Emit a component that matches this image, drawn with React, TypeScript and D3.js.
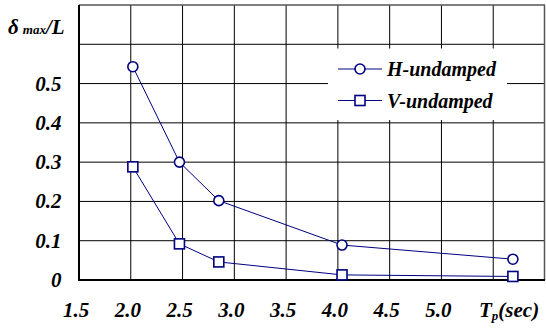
import { useEffect, useRef } from 'react';
import * as d3 from 'd3';

// Values
const periods = [2.02, 2.47, 2.85, 4.04, 5.69];
const hUndamped = [0.543, 0.3, 0.202, 0.089, 0.053];
const vUndamped = [0.288, 0.092, 0.046, 0.013, 0.009];

const xTicks = [1.5, 2.0, 2.5, 3.0, 3.5, 4.0, 4.5, 5.0];
const xGrid = [2.0, 2.5, 3.0, 3.5, 4.0, 4.5, 5.0, 5.5];
const yTicks = [0, 0.1, 0.2, 0.3, 0.4, 0.5];
const yGrid = [0.1, 0.2, 0.3, 0.4, 0.5, 0.6];

const seriesNames = ['H-undamped', 'V-undamped'];

export default function App() {
  const svgRef = useRef<SVGSVGElement>(null);

  useEffect(() => {
    if (!svgRef.current) return;

    const width = 546;
    const height = 334;
    const margin = { top: 5, right: 1, bottom: 54, left: 79 };
    const color = '#000080';
    const font = 'Liberation Serif';

    const svg = d3.select(svgRef.current)
      .attr('width', width)
      .attr('height', height);

    svg.selectAll('*').remove();

    const x = d3.scaleLinear()
      .domain([1.5, 6.0])
      .range([margin.left, width - margin.right]);

    const y = d3.scaleLinear()
      .domain([0, 0.7])
      .range([height - margin.bottom, margin.top]);

    // grid
    const grid = svg.append('g');
    grid.selectAll('line.v')
      .data(xGrid)
      .join('line')
      .attr('x1', d => x(d)).attr('x2', d => x(d))
      .attr('y1', y(0)).attr('y2', y(0.7))
      .attr('stroke', '#000').attr('stroke-width', 1);
    grid.selectAll('line.h')
      .data(yGrid)
      .join('line')
      .attr('x1', x(1.5)).attr('x2', x(6.0))
      .attr('y1', d => y(d)).attr('y2', d => y(d))
      .attr('stroke', '#000').attr('stroke-width', 1);

    // frame
    svg.append('line')
      .attr('x1', x(1.5)).attr('x2', x(6.0)).attr('y1', y(0.7)).attr('y2', y(0.7))
      .attr('stroke', '#555').attr('stroke-width', 1.5);
    svg.append('line')
      .attr('x1', x(6.0) - 0.5).attr('x2', x(6.0) - 0.5).attr('y1', y(0)).attr('y2', y(0.7))
      .attr('stroke', '#555').attr('stroke-width', 1.5);
    svg.append('line')
      .attr('x1', x(1.5)).attr('x2', x(1.5)).attr('y1', y(0) + 1).attr('y2', y(0.7))
      .attr('stroke', '#000').attr('stroke-width', 2);
    svg.append('line')
      .attr('x1', x(1.5)).attr('x2', x(6.0)).attr('y1', y(0)).attr('y2', y(0))
      .attr('stroke', '#000').attr('stroke-width', 2);

    // legend background
    svg.append('rect')
      .attr('x', 328).attr('y', 48.5)
      .attr('width', 179).attr('height', 71.5)
      .attr('fill', '#fff');

    // series
    const line = d3.line<[number, number]>()
      .x(d => x(d[0]))
      .y(d => y(d[1]));

    const series = [hUndamped, vUndamped];
    series.forEach((vals, si) => {
      const pts = periods.map((p, i) => [p, vals[i]] as [number, number]);
      svg.append('path')
        .datum(pts)
        .attr('fill', 'none')
        .attr('stroke', color)
        .attr('stroke-width', 1)
        .attr('d', line);
      if (si === 0) {
        svg.selectAll(null)
          .data(pts)
          .join('circle')
          .attr('cx', d => x(d[0]))
          .attr('cy', d => y(d[1]))
          .attr('r', 5)
          .attr('fill', '#fff')
          .attr('stroke', color)
          .attr('stroke-width', 1.6);
      } else {
        svg.selectAll(null)
          .data(pts)
          .join('rect')
          .attr('x', d => x(d[0]) - 5)
          .attr('y', d => y(d[1]) - 5)
          .attr('width', 10)
          .attr('height', 10)
          .attr('fill', '#fff')
          .attr('stroke', color)
          .attr('stroke-width', 1.6);
      }
    });

    // legend
    const legendY = [69, 100.5];
    seriesNames.forEach((name, i) => {
      const g = svg.append('g');
      g.append('line')
        .attr('x1', 338).attr('x2', 382)
        .attr('y1', legendY[i]).attr('y2', legendY[i])
        .attr('stroke', color).attr('stroke-width', 1);
      if (i === 0) {
        g.append('circle')
          .attr('cx', 360).attr('cy', legendY[i]).attr('r', 5)
          .attr('fill', '#fff').attr('stroke', color).attr('stroke-width', 1.6);
      } else {
        g.append('rect')
          .attr('x', 355).attr('y', legendY[i] - 5).attr('width', 10).attr('height', 10)
          .attr('fill', '#fff').attr('stroke', color).attr('stroke-width', 1.6);
      }
      g.append('text')
        .attr('x', 387).attr('y', legendY[i] + 7)
        .attr('font-family', font).attr('font-weight', 'bold').attr('font-style', 'italic')
        .attr('font-size', 20)
        .text(name);
    });

    // y tick labels
    svg.selectAll('text.yt')
      .data(yTicks)
      .join('text')
      .attr('x', 61.5)
      .attr('y', d => y(d) + 7)
      .attr('text-anchor', 'end')
      .attr('font-family', font).attr('font-weight', 'bold').attr('font-style', 'italic')
      .attr('font-size', 21)
      .text(d => (d === 0 ? '0' : d3.format('.1f')(d)));

    // x tick labels
    svg.selectAll('text.xt')
      .data(xTicks)
      .join('text')
      .attr('x', d => x(d) - 3)
      .attr('y', 317)
      .attr('text-anchor', 'middle')
      .attr('font-family', font).attr('font-weight', 'bold').attr('font-style', 'italic')
      .attr('font-size', 21)
      .text(d => d3.format('.1f')(d));

    // axis titles
    const yTitle = svg.append('text')
      .attr('x', 8).attr('y', 34)
      .attr('font-family', font).attr('font-weight', 'bold').attr('font-style', 'italic')
      .attr('font-size', 21);
    yTitle.append('tspan').text('δ');
    yTitle.append('tspan').attr('font-size', 13).attr('dx', 4).text('max');
    yTitle.append('tspan').text('/L');

    const xTitle = svg.append('text')
      .attr('x', 479).attr('y', 317)
      .attr('font-family', font).attr('font-weight', 'bold').attr('font-style', 'italic')
      .attr('font-size', 21);
    xTitle.append('tspan').text('T');
    xTitle.append('tspan').attr('font-size', 13).attr('dy', 3).text('p');
    xTitle.append('tspan').attr('dy', -3).text('(sec)');
  }, []);

  return (
    <div style={{ position: 'fixed', left: 0, top: 0, background: '#fff' }}>
      <svg ref={svgRef} style={{ display: 'block' }} />
    </div>
  );
}
